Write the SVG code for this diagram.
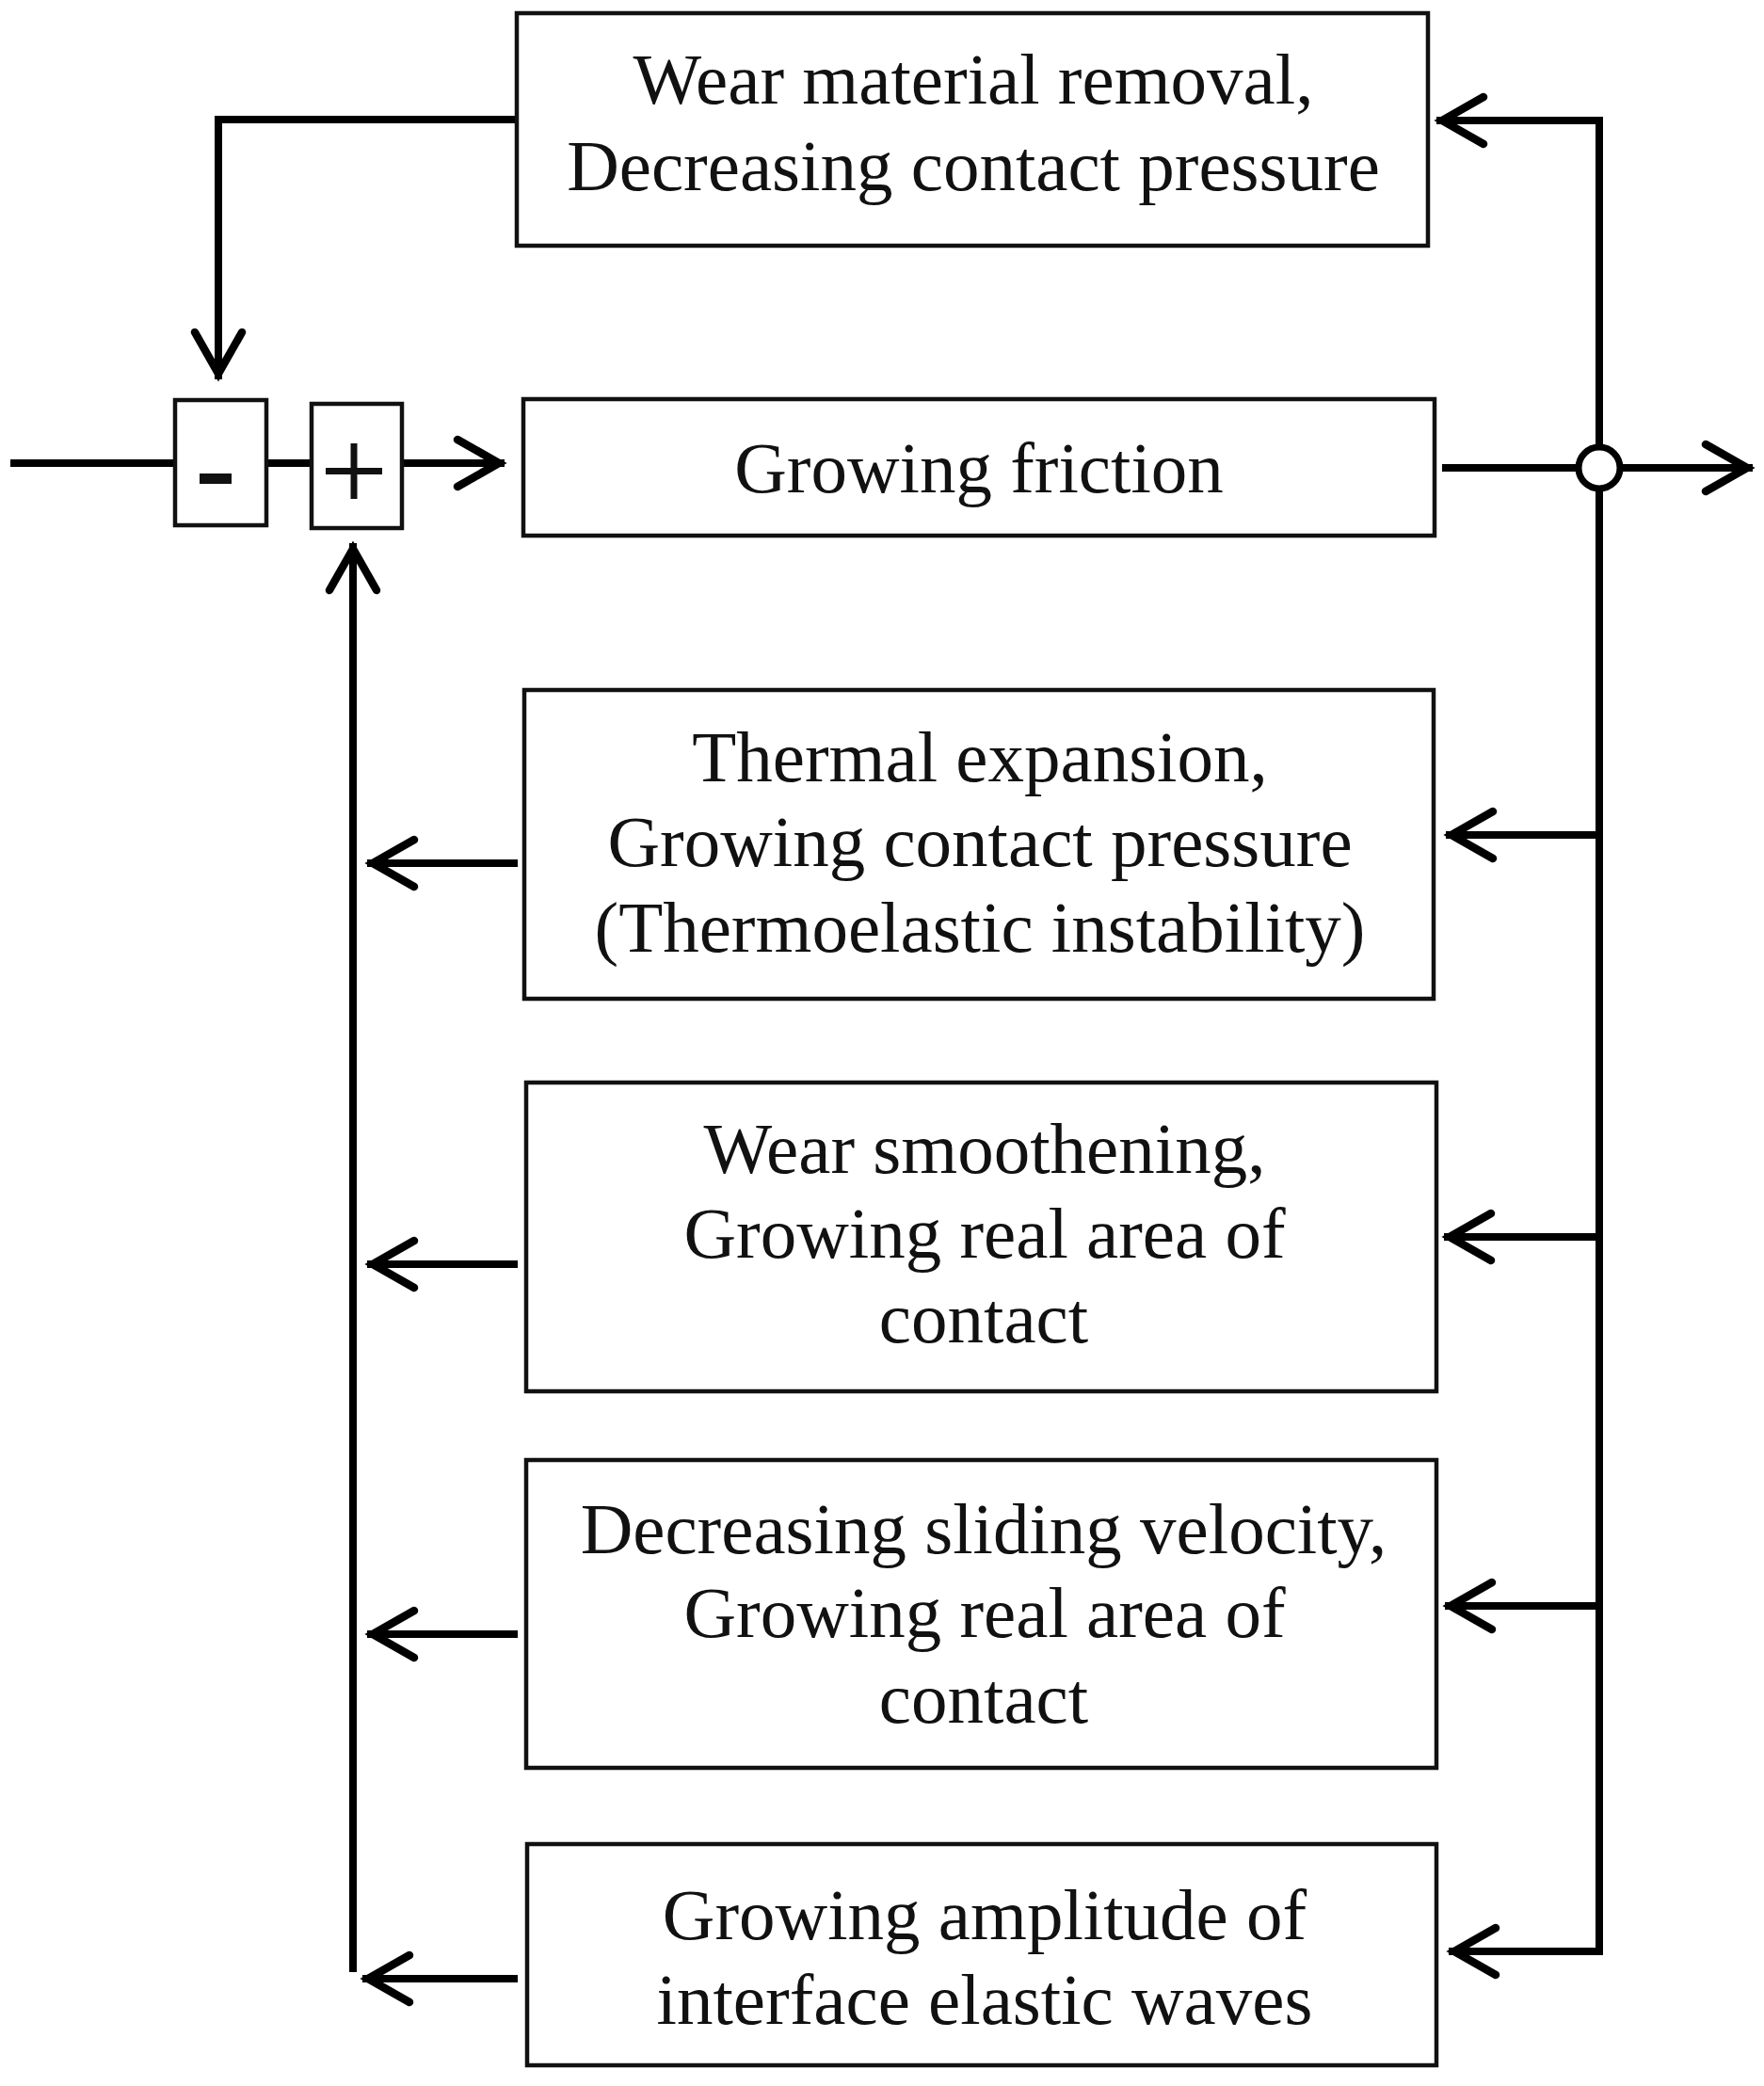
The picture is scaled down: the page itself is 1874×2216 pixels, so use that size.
<svg xmlns="http://www.w3.org/2000/svg" width="1874" height="2216" viewBox="0 0 1874 2216">
  <style>
    .box { fill: #fff; stroke: #111; stroke-width: 4.5; }
    .lbl { font-family: "Liberation Serif", "Times New Roman", serif; font-size: 77px; fill: #111; text-anchor: middle; }
    .wire { fill: none; stroke: #000; stroke-width: 8; stroke-linecap: butt; stroke-linejoin: miter; }
    .arr { marker-end: url(#ah); }
  </style>
  <defs>
    <marker id="ah" markerUnits="userSpaceOnUse" markerWidth="80" markerHeight="80" viewBox="-60 -40 80 80" refX="0" refY="0" orient="auto" overflow="visible">
      <path d="M-50,-25 L-6,0 L-50,25" fill="none" stroke="#000" stroke-width="8.5" stroke-linecap="round" stroke-linejoin="miter"/>
    </marker>
  </defs>
  <rect width="1874" height="2216" fill="#fff"/>

  <g id="connectors">
    <path class="wire arr" d="M549,127 L232,127 L232,403"/>
    <path class="wire" d="M11,492 L186,492"/>
    <path class="wire" d="M283,492 L331,492"/>
    <path class="wire arr" d="M427,492 L536,492"/>
    <path class="wire" d="M1532,497 L1677,497"/>
    <path class="wire arr" d="M1721,497 L1862,497"/>
    <path class="wire" d="M1699,128 L1699,475"/>
    <path class="wire" d="M1699,519 L1699,2073"/>
    <path class="wire arr" d="M1703,128 L1526,128"/>
    <path class="wire arr" d="M1699,887 L1536,887"/>
    <path class="wire arr" d="M1697,1314 L1534,1314"/>
    <path class="wire arr" d="M1699,1706 L1535,1706"/>
    <path class="wire arr" d="M1703,2073 L1539,2073"/>
    <path class="wire arr" d="M550,917 L390,917"/>
    <path class="wire arr" d="M550,1343 L390,1343"/>
    <path class="wire arr" d="M550,1736 L390,1736"/>
    <path class="wire arr" d="M550,2102 L385,2102"/>
    <path class="wire arr" d="M375,2095 L375,577"/>
  </g>

  <g id="junction">
    <circle cx="1699" cy="497" r="22" fill="#fff" stroke="#000" stroke-width="7"/>
  </g>

  <g id="minus">
    <rect class="box" x="186" y="425" width="97" height="133"/>
    <rect x="212" y="503" width="34" height="11" fill="#111"/>
  </g>

  <g id="plus">
    <rect class="box" x="331" y="429" width="96" height="132"/>
    <path d="M346,500.5 L406,500.5 M376,471 L376,530" stroke="#111" stroke-width="7" fill="none"/>
  </g>

  <g id="wear-removal">
    <rect class="box" x="549" y="14" width="968" height="247"/>
    <text class="lbl" x="1034" y="110">Wear material removal,</text>
    <text class="lbl" x="1034" y="202">Decreasing contact pressure</text>
  </g>

  <g id="growing-friction">
    <rect class="box" x="556" y="424" width="968" height="145"/>
    <text class="lbl" x="1040" y="523">Growing friction</text>
  </g>

  <g id="thermal">
    <rect class="box" x="557" y="733" width="966" height="328"/>
    <text class="lbl" x="1041" y="830">Thermal expansion,</text>
    <text class="lbl" x="1041" y="920">Growing contact pressure</text>
    <text class="lbl" x="1041" y="1011">(Thermoelastic instability)</text>
  </g>

  <g id="wear-smoothening">
    <rect class="box" x="559" y="1150" width="967" height="328"/>
    <text class="lbl" x="1046" y="1246">Wear smoothening,</text>
    <text class="lbl" x="1046" y="1336">Growing real area of</text>
    <text class="lbl" x="1045" y="1426">contact</text>
  </g>

  <g id="sliding-velocity">
    <rect class="box" x="559" y="1551" width="967" height="327"/>
    <text class="lbl" x="1045" y="1650">Decreasing sliding velocity,</text>
    <text class="lbl" x="1046" y="1739">Growing real area of</text>
    <text class="lbl" x="1045" y="1830">contact</text>
  </g>

  <g id="elastic-waves">
    <rect class="box" x="560" y="1959" width="966" height="235"/>
    <text class="lbl" x="1046" y="2060">Growing amplitude of</text>
    <text class="lbl" x="1046" y="2150">interface elastic waves</text>
  </g>
</svg>
